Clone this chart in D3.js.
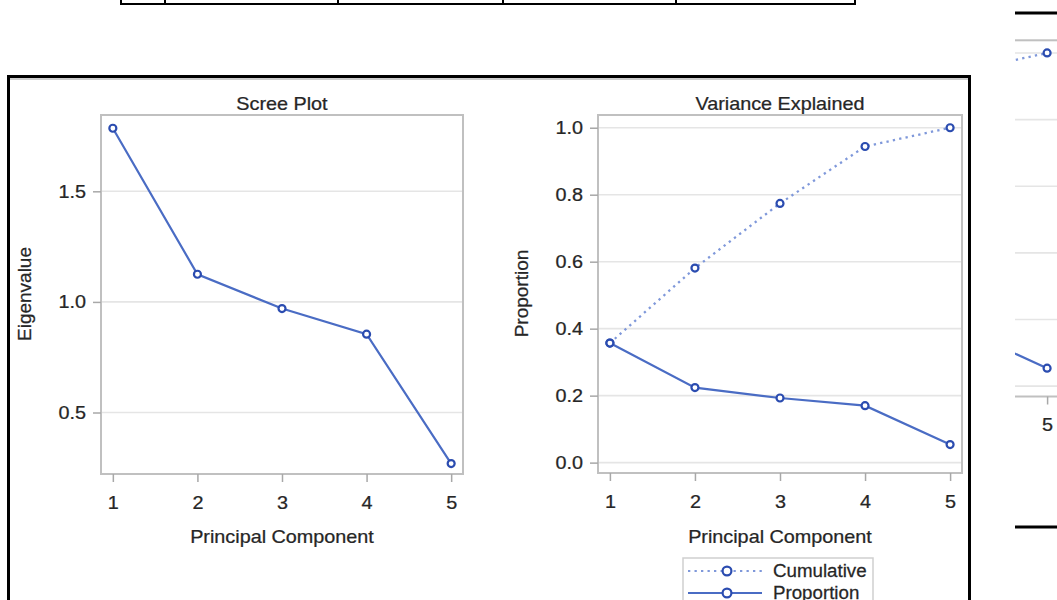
<!DOCTYPE html>
<html>
<head>
<meta charset="utf-8">
<script src="https://cdn.jsdelivr.net/npm/d3@7/dist/d3.min.js"></script>
<style>
  html, body { margin: 0; padding: 0; background: #fff; }
  svg { display: block; }
</style>
</head>
<body>
<script>
// Principal components and their eigenvalues
const components = [1, 2, 3, 4, 5];
const eigenvalues = [1.785, 1.125, 0.970, 0.854, 0.269];
// Share of total variance per component, and running total
const proportion = [0.357, 0.224, 0.193, 0.170, 0.054];
const cumulative = [0.357, 0.581, 0.774, 0.944, 1.000];
// Axis tick values
const eigenTicks = [0.5, 1.0, 1.5];
const propTicks = [0.0, 0.2, 0.4, 0.6, 0.8, 1.0];
// Legend entries
const legendLabels = ["Cumulative", "Proportion"];

const FONT = "'Liberation Sans', Arial, sans-serif";
const TEXT = "#262626";
const LINE = "#4a6cc4";
const MARK = "#2b4cb0";
const DOTTED = "#7f98da";

const W = 1057, H = 600;
const svg = d3.select("body").append("svg").attr("width", W).attr("height", H);
svg.append("rect").attr("width", W).attr("height", H).attr("fill", "#fff");

// widen glyphs horizontally about their anchor point
function stretch(sel, k = 1.1) {
  sel.each(function () {
    const t = d3.select(this);
    const x = +t.attr("x") || 0, y = +t.attr("y") || 0;
    t.attr("transform", `translate(${x},${y}) scale(${k},1) translate(${-x},${-y})`);
  });
}

// slightly heavier text strokes
function ink(sel) {
  sel.attr("stroke", TEXT).attr("stroke-width", 0.25);
}

const xDomain = [0.86, 5.14];

function panel(g, o) {
  const x = d3.scaleLinear().domain(xDomain).range(o.xr);
  const y = d3.scaleLinear().domain(o.yd).range(o.yr);

  // horizontal grid
  g.append("g").selectAll("line").data(o.ticks).join("line")
    .attr("x1", o.xr[0]).attr("x2", o.xr[1])
    .attr("y1", d => y(d)).attr("y2", d => y(d))
    .attr("stroke", "#e5e5e5").attr("stroke-width", 1.6);

  // wall outline
  g.append("rect")
    .attr("x", o.xr[0]).attr("y", o.yr[1])
    .attr("width", o.xr[1] - o.xr[0]).attr("height", o.yr[0] - o.yr[1])
    .attr("fill", "none").attr("stroke", "#c0c0c0").attr("stroke-width", 2);

  const ax = g.append("g").attr("transform", `translate(0,${o.yr[0]})`)
    .call(d3.axisBottom(x).tickValues(components).tickFormat(d3.format("d"))
      .tickSize(8).tickPadding(14));
  const ay = g.append("g").attr("transform", `translate(${o.xr[0]},0)`)
    .call(d3.axisLeft(y).tickValues(o.ticks).tickFormat(d3.format(".1f"))
      .tickSize(8).tickPadding(7));
  [ax, ay].forEach(a => {
    a.select(".domain").remove();
    a.selectAll(".tick line").attr("stroke", "#a8a8a8").attr("stroke-width", 1.5);
    a.selectAll(".tick text").attr("font-size", 18).attr("font-family", FONT)
      .attr("fill", TEXT).call(ink).call(stretch);
  });

  const cx = (o.xr[0] + o.xr[1]) / 2;
  if (o.title) {
    g.append("text").attr("x", cx).attr("y", o.yr[1] - 5)
      .attr("text-anchor", "middle").attr("font-size", 18).attr("font-family", FONT)
      .attr("fill", TEXT).text(o.title).call(ink).call(stretch);
  }
  if (o.xlabel) {
    g.append("text").attr("x", cx).attr("y", 543)
      .attr("text-anchor", "middle").attr("font-size", 18).attr("font-family", FONT)
      .attr("fill", TEXT).text(o.xlabel).call(ink).call(stretch);
  }
  if (o.ylabel) {
    g.append("text")
      .attr("transform", `translate(${o.ylabelX},${(o.yr[0] + o.yr[1]) / 2 - 0.5}) rotate(-90)`)
      .attr("text-anchor", "middle").attr("font-size", 19).attr("font-family", FONT)
      .attr("fill", TEXT).text(o.ylabel).call(ink);
  }

  o.series.forEach(s => {
    const line = d3.line().x((d, i) => x(components[i])).y(d => y(d));
    g.append("path").datum(s.values).attr("d", line)
      .attr("fill", "none").attr("stroke", s.color).attr("stroke-width", s.dash ? 2.3 : 2.2)
      .attr("stroke-dasharray", s.dash || null);
    g.append("g").selectAll("circle").data(s.values).join("circle")
      .attr("cx", (d, i) => x(components[i])).attr("cy", d => y(d)).attr("r", 3.5)
      .attr("fill", "#fff").attr("stroke", MARK).attr("stroke-width", 2.2);
  });
  return { x, y };
}

// table border above the figure
const table = svg.append("g").attr("stroke", "#000").attr("stroke-width", 2);
table.append("line").attr("x1", 120).attr("x2", 856).attr("y1", 4).attr("y2", 4);
table.selectAll(".col").data([121, 165, 338, 503, 676, 855]).join("line")
  .attr("x1", d => d).attr("x2", d => d).attr("y1", 0).attr("y2", 4);

// figure frame
svg.append("rect").attr("x", 8.5).attr("y", 76.5).attr("width", 961).attr("height", 600)
  .attr("fill", "none").attr("stroke", "#000").attr("stroke-width", 3);
svg.append("line").attr("x1", 10).attr("x2", 968).attr("y1", 79).attr("y2", 79)
  .attr("stroke", "#9a9a9a").attr("stroke-width", 1);

// Scree plot
panel(svg.append("g"), {
  xr: [101, 463], yr: [474, 115], yd: [0.222, 1.845], ticks: eigenTicks,
  title: "Scree Plot", xlabel: "Principal Component", ylabel: "Eigenvalue", ylabelX: 31,
  series: [{ values: eigenvalues, color: LINE }]
});

// Variance explained
panel(svg.append("g"), {
  xr: [598, 962], yr: [473, 115], yd: [-0.031, 1.038], ticks: propTicks,
  title: "Variance Explained", xlabel: "Principal Component", ylabel: "Proportion", ylabelX: 528,
  series: [
    { values: cumulative, color: DOTTED, dash: "2.3,4.2" },
    { values: proportion, color: LINE }
  ]
});

// legend
const lg = svg.append("g");
lg.append("rect").attr("x", 683).attr("y", 558).attr("width", 190).attr("height", 60)
  .attr("fill", "#fff").attr("stroke", "#cfcfcf").attr("stroke-width", 1.5);
const legendStyle = [{ color: DOTTED, dash: "2.3,4.2" }, { color: LINE, dash: null }];
legendLabels.forEach((lab, i) => {
  const yy = 571 + i * 22;
  lg.append("line").attr("x1", 688).attr("x2", 762).attr("y1", yy).attr("y2", yy)
    .attr("stroke", legendStyle[i].color).attr("stroke-width", 2.2)
    .attr("stroke-dasharray", legendStyle[i].dash);
  lg.append("circle").attr("cx", 727).attr("cy", yy).attr("r", 4.4)
    .attr("fill", "#fff").attr("stroke", MARK).attr("stroke-width", 2.2);
  lg.append("text").attr("x", 773).attr("y", yy + 6).attr("font-size", 18)
    .attr("font-family", FONT).attr("fill", TEXT).text(lab).call(ink).call(stretch, 1.04);
});

// neighbouring figure at the right margin
svg.append("clipPath").attr("id", "side").append("rect")
  .attr("x", 1015).attr("y", 30).attr("width", 42).attr("height", 420);
const side = svg.append("g").attr("clip-path", "url(#side)");
panel(side, {
  xr: [695, 1059], yr: [396.5, 40.3], yd: [-0.031, 1.038], ticks: propTicks,
  series: [
    { values: cumulative, color: DOTTED, dash: "2.3,4.2" },
    { values: proportion, color: LINE }
  ]
});
svg.append("line").attr("x1", 1015).attr("x2", 1057).attr("y1", 13).attr("y2", 13)
  .attr("stroke", "#000").attr("stroke-width", 3);
svg.append("line").attr("x1", 1015).attr("x2", 1057).attr("y1", 527).attr("y2", 527)
  .attr("stroke", "#000").attr("stroke-width", 3);
</script>
</body>
</html>
